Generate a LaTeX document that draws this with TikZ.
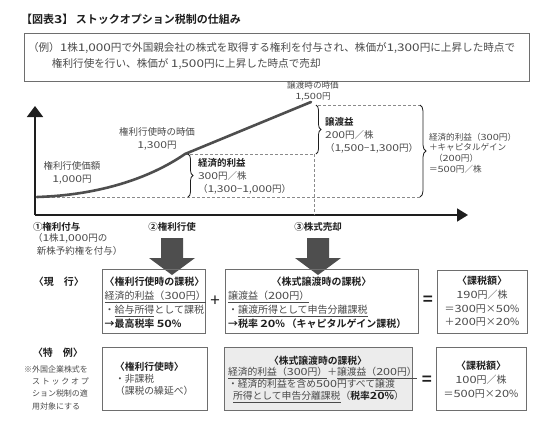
\documentclass[tikz,border=0pt]{standalone}
\usepackage{fontspec}
\setmainfont{Noto Sans CJK JP}[BoldFont={Noto Sans CJK JP Bold}]
\newfontfamily\numfam{Noto Sans CJK JP}[FakeStretch=1.28,BoldFont={Noto Sans CJK JP Bold}]
\usetikzlibrary{arrows.meta,decorations.pathreplacing}
\definecolor{txt}{HTML}{4A4A4A}
\definecolor{blk}{HTML}{1E1E1E}
\definecolor{bx}{HTML}{6E6E6E}
\definecolor{dk}{HTML}{4E4E4E}
\definecolor{dgray}{HTML}{8A8A8A}
\definecolor{fillg}{HTML}{ECECEC}
\newcommand\myb[1]{\textcolor{blk}{\bfseries #1}}
\makeatletter
\newXeTeXintercharclass\DigCls
\XeTeXcharclass`\0=\DigCls \XeTeXcharclass`\1=\DigCls \XeTeXcharclass`\2=\DigCls
\XeTeXcharclass`\3=\DigCls \XeTeXcharclass`\4=\DigCls \XeTeXcharclass`\5=\DigCls
\XeTeXcharclass`\6=\DigCls \XeTeXcharclass`\7=\DigCls \XeTeXcharclass`\8=\DigCls
\XeTeXcharclass`\9=\DigCls
\XeTeXinterchartoks 0 \DigCls = {\begingroup\numfam}
\XeTeXinterchartoks \e@alloc@intercharclass@top \DigCls = {\begingroup\numfam}
\XeTeXinterchartoks \DigCls 0 = {\endgroup}
\XeTeXinterchartoks \DigCls \e@alloc@intercharclass@top = {\endgroup}
\makeatother
\begin{document}
\begin{tikzpicture}[x=1pt,y=-1pt,
  every node/.style={inner sep=0pt,outer sep=0pt,text=txt},
  box/.style={draw=bx,line width=0.8pt},
  dsh/.style={draw=dgray,line width=0.9pt,dash pattern=on 3pt off 2pt},
  brc/.style={draw=blk,line width=0.8pt,decorate,decoration={brace,amplitude=#1}},
  axis/.style={draw=blk,line width=1.8pt},
  f11/.style={font=\fontsize{10.6}{16.5}\selectfont},
  fch/.style={font=\fontsize{9.5}{13}\selectfont},
  fsm/.style={font=\fontsize{8.6}{10.8}\selectfont},
  fbx/.style={font=\fontsize{10}{14}\selectfont},
  fbx2/.style={font=\fontsize{9.8}{12}\selectfont},
  fnote/.style={font=\fontsize{8}{12.3}\selectfont},
  sym/.style={font=\fontsize{17}{17}\selectfont,text=blk},
  blockarrow/.style={fill=dk}
]
\XeTeXinterchartokenstate=1
\useasboundingbox (0,0) rectangle (550,426);

% title
\node[anchor=west,font=\fontsize{11}{13}\selectfont\bfseries,text=blk] (title) at (21,19) {【図表3】 ストックオプション税制の仕組み};

% example box
\draw[box] (24,33) rectangle (529,81);
\node[anchor=west,f11,align=left] (ex) at (28,56) {（例）1株1,000円で外国親会社の株式を取得する権利を付与され、株価が1,300円に上昇した時点で\\\hspace{24pt}権利行使を行い、株価が 1,500円に上昇した時点で売却};

% axes
\coordinate (O) at (35,215);
\coordinate (Ytop) at (35,106);
\coordinate (Xend) at (468,215);
\draw[axis,-{Triangle[width=16pt,length=11pt]}] (O) -- (Ytop);
\draw[axis,-{Triangle[width=13pt,length=11pt]}] (O) -- (Xend);

% dashed guides
\coordinate (p0) at (37,197);
\coordinate (p1) at (185,154);
\coordinate (p2) at (311,102);
\coordinate (b1r) at (314,154);
\coordinate (bot) at (314,215);
\coordinate (bigT) at (420,105);
\coordinate (bigB) at (420,197);
\draw[dsh] (p0) -- (bigB);
\draw[dsh] (p1) -- (b1r);
\draw[dsh] (b1r) -- (bot);
\draw[dsh] (318,105) -- (bigT);

% price curve
\draw[draw=dk,line width=2.6pt,line cap=round,line join=round]
  (p0) .. controls (100,195) and (150,178) .. (p1) -- (p2);

% braces
\draw[brc=5pt] (188,154) -- (188,197);
\draw[brc=5pt] (316,105) -- (316,154);
\draw[brc=6pt] (bigT) -- (bigB);

% chart labels
\node[fch,align=center] (l1000) at (72,172.5) {権利行使価額\\1,000円};
\node[fch,align=center] (l1300) at (157,138.5) {権利行使時の時価\\1,300円};
\node[fsm,align=center] (l1500) at (313,91.5) {譲渡時の時価\\1,500円};
\node[fch,align=left,anchor=west] (keizai) at (198,176.5) {\myb{経済的利益}\\300円／株\\（1,300−1,000円）};
\node[fch,align=left,anchor=west] (joto) at (325,135) {\myb{譲渡益}\\200円／株\\（1,500−1,300円）};
\node[fsm,align=left,anchor=west] (total) at (429,153) {経済的利益（300円）\\＋キャピタルゲイン\\\hspace{5pt}（200円）\\＝500円／株};

% time labels
\node[fch,anchor=west] (t1) at (33,227) {\myb{①権利付与}};
\node[fch,align=left,anchor=west] (t1b) at (33,244.5) {（1株1,000円の\\\hspace{4pt}新株予約権を付与）};
\node[fch] (t2) at (172,227) {\myb{②権利行使}};
\node[fch] (t3) at (318,227) {\myb{③株式売却}};

% block arrows
\fill[blockarrow] (161,238) -- (183,238) -- (183,258) -- (195,258) -- (172,275) -- (149,258) -- (161,258) -- cycle;
\fill[blockarrow] (307,238) -- (329,238) -- (329,258) -- (341,258) -- (318,275) -- (295,258) -- (307,258) -- cycle;

% row labels
\node[font=\fontsize{10}{12}\selectfont] (genko) at (59,282) {\myb{〈現　行〉}};
\node[font=\fontsize{10}{12}\selectfont] (tokurei) at (58,353) {\myb{〈特　例〉}};
\node[fnote,anchor=west] (n1) at (24,369) {※外国企業株式を};
\node[fnote,anchor=west] (n2) at (32,381.5) {\makebox[57pt][s]{ス\hfill ト\hfill ッ\hfill ク\hfill オ\hfill プ}};
\node[fnote,anchor=west] (n3) at (32,393.8) {ション税制の適};
\node[fnote,anchor=west] (n4) at (32,406) {用対象にする};

% row 1 boxes
\draw[box] (102,269) rectangle (205,333);
\node[fbx,align=left,anchor=west] (a) at (104.5,303) {\myb{〈権利行使時の課税〉}\\\underline{経済的利益（300円）}\\・\underline{給与所得}として課税\\\myb{→最高税率 50\%}};
\node[sym] (plus) at (215,301) {+};
\draw[box] (225,269) rectangle (418,333);
\node[fbx] (bt) at (321.5,282) {\myb{〈株式譲渡時の課税〉}};
\node[fbx,align=left,anchor=west] (b) at (228,310) {\underline{譲渡益（200円）}\\・\underline{譲渡所得として申告分離課税}\\\myb{→税率 20\%\,（キャピタルゲイン課税）}};
\node[sym] (eq1) at (428,301) {\bfseries =};
\draw[box] (437,270) rectangle (527,333);
\node[fbx,align=center,font=\fontsize{10}{13.7}\selectfont] (c) at (482,301.5) {\myb{〈課税額〉}\\190円／株\\＝300円×50\%\\＋200円×20\%};

% row 2 boxes
\draw[box] (102,347) rectangle (207,410);
\node[fbx2,align=left,anchor=west] (d) at (115,379) {\myb{〈権利行使時〉}\\・非課税\\（課税の繰延べ）};
\draw[box,fill=fillg] (224,347) rectangle (412,410);
\node[fbx2] (et) at (318,361) {\myb{〈株式譲渡時の課税〉}};
\node[fbx2,align=left,anchor=west] (e) at (228,385) {\underline{経済的利益（300円）}＋\underline{譲渡益（200円）}\\・経済的利益を含め500円すべて\underline{譲渡}\\\hspace{5pt}\underline{所得として申告分離課税}（\myb{税率20\%}）};
\node[sym] (eq2) at (427,381) {\bfseries =};
\draw[box] (436,347) rectangle (526,410);
\node[fbx,align=center] (f) at (481,379.5) {\myb{〈課税額〉}\\100円／株\\＝500円×20\%};
\end{tikzpicture}
\end{document}
